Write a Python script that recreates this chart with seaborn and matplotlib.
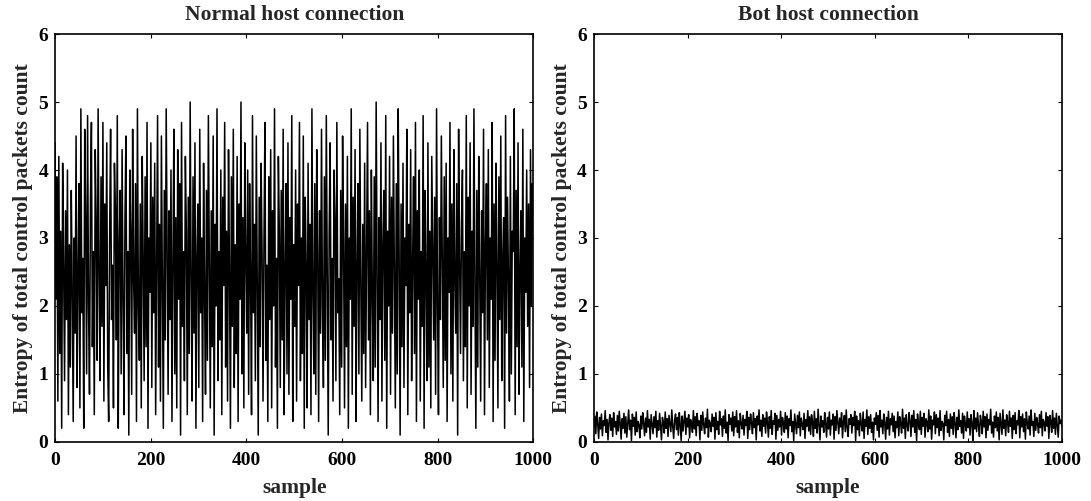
import numpy as np
import pandas as pd
import matplotlib
matplotlib.use("Agg")
import matplotlib.pyplot as plt
import seaborn as sns

titles = ["Normal host connection", "Bot host connection"]
x_label = "sample"
y_label = "Entropy of total control packets count"
x_ticks = [0, 200, 400, 600, 800, 1000]
y_ticks = [0, 1, 2, 3, 4, 5, 6]

normal_entropy = [
    4.4,2.1,3.9,0.6,4.2,1.3,3.1,0.2,4.1,2.6,0.9,3.4,1.8,4.0,0.4,2.9,1.1,3.7,2.2,0.3,3.0,1.6,4.5,0.8,2.4,
    3.8,0.5,4.9,1.9,2.7,0.2,4.6,3.3,1.0,4.8,2.0,0.7,3.6,4.7,1.4,2.8,0.4,4.3,3.2,1.2,4.9,2.5,0.9,3.9,1.7,
    4.7,0.6,3.5,2.3,4.4,1.1,0.3,3.0,4.6,1.8,2.6,0.5,4.1,3.4,1.5,4.8,0.2,2.9,3.7,1.0,4.3,2.1,0.4,3.3,4.5,
    1.3,2.8,0.1,4.0,3.1,0.7,4.6,2.4,1.6,3.8,0.3,4.9,2.0,1.2,3.5,0.5,4.2,2.7,0.9,3.9,1.4,4.7,0.2,3.0,2.2,
    4.4,0.8,3.6,1.9,4.1,0.4,2.5,4.8,1.1,3.2,0.6,4.5,2.3,0.2,3.7,1.5,4.9,2.9,0.7,3.4,1.8,4.0,0.3,2.6,4.6,
    1.0,3.3,0.5,4.3,2.1,3.8,0.1,4.7,1.7,2.8,0.9,4.2,3.1,0.4,3.6,1.3,5.0,2.4,0.6,3.9,1.6,4.4,0.2,2.7,3.5,
    0.8,4.6,1.9,3.0,0.3,4.1,2.2,0.7,3.7,1.2,4.8,2.6,0.5,3.4,1.4,4.5,0.1,3.2,2.0,4.9,0.9,2.8,1.5,4.0,0.4,
    3.6,2.3,4.7,1.1,3.1,0.6,4.3,2.5,0.2,3.9,1.7,4.6,0.8,2.9,1.3,4.2,0.3,3.5,2.1,5.0,1.0,3.3,0.5,4.4,2.7,
    1.6,4.0,0.7,3.8,2.4,0.4,4.8,1.9,3.2,0.9,4.5,2.2,0.1,3.6,1.4,4.1,2.8,0.6,3.0,4.7,1.2,2.6,0.3,3.9,1.8,
    4.3,0.5,3.4,2.0,4.9,1.1,2.7,0.2,4.2,3.1,0.8,3.7,1.5,4.6,0.4,2.5,3.8,1.0,4.4,0.7,3.3,2.1,4.8,0.3,2.9,
    1.7,4.0,0.6,3.5,2.3,4.7,0.9,3.0,1.3,4.5,0.2,3.6,2.6,0.5,4.1,1.8,3.2,0.4,4.9,2.2,1.0,3.8,0.7,4.3,2.8,
    0.3,3.4,1.6,4.6,2.0,0.8,3.9,1.2,4.8,2.5,0.1,3.1,4.4,1.5,2.7,0.6,4.0,3.3,0.9,4.7,1.9,2.4,0.4,3.7,1.1,
    4.5,2.9,0.5,3.5,1.4,4.2,0.2,3.0,2.1,4.9,0.7,3.6,1.7,4.3,0.3,2.6,3.8,1.0,4.6,2.3,0.6,3.2,1.3,4.1,0.8,
    2.8,4.7,1.5,3.4,0.4,4.0,2.2,0.9,3.9,1.1,5.0,2.5,0.3,3.3,1.8,4.4,0.6,2.9,3.7,1.2,4.8,0.2,3.1,2.0,4.2,
    0.7,3.6,1.6,4.5,2.4,0.5,3.8,1.0,4.9,2.7,0.1,3.5,1.4,4.1,0.8,3.0,2.3,4.6,0.4,3.2,1.9,4.3,0.9,2.6,3.9,
    1.3,4.7,0.3,3.4,2.1,4.0,0.6,2.8,1.7,4.8,0.2,3.7,2.5,0.9,4.4,1.1,3.1,0.5,4.2,2.9,1.5,3.6,0.7,4.9,2.0,
    0.4,3.3,1.8,4.5,2.6,0.8,3.9,1.2,4.1,0.3,3.0,2.2,4.7,1.0,3.5,0.6,4.3,2.4,1.6,3.8,0.1,4.6,2.7,1.3,3.2,
    4.0,0.9,2.8,1.4,4.8,0.5,3.6,2.0,4.4,0.7,3.1,1.7,4.9,2.3,0.2,3.7,1.1,4.2,2.5,0.6,3.4,1.9,4.6,0.4,2.9,
    3.8,1.5,4.3,0.8,3.0,2.1,4.7,0.3,3.5,1.2,4.1,2.6,0.5,3.9,1.8,4.5,0.9,2.7,3.3,0.2,4.8,1.6,3.6,2.4,0.6,
    4.2,1.0,3.1,2.8,4.9,0.4,3.7,1.4,4.4,0.7,2.5,3.4,1.1,4.6,0.3,3.0,2.2,4.0,1.7,3.5,0.8,4.3,2.0,3.8,3.3,
]

bot_entropy = [
    0.21,0.38,0.12,0.44,0.27,0.05,0.36,0.19,0.41,0.09,0.31,0.24,0.46,0.14,0.33,0.03,0.29,0.40,0.17,0.35,0.08,0.43,0.22,0.30,0.11,
    0.39,0.16,0.45,0.26,0.04,0.34,0.20,0.42,0.13,0.37,0.07,0.28,0.47,0.18,0.32,0.02,0.41,0.23,0.36,0.10,0.44,0.15,0.30,0.25,0.06,
    0.38,0.19,0.43,0.28,0.09,0.35,0.14,0.46,0.22,0.33,0.04,0.40,0.26,0.12,0.37,0.21,0.45,0.07,0.31,0.17,0.42,0.24,0.03,0.36,0.29,
    0.13,0.44,0.20,0.34,0.08,0.39,0.27,0.15,0.47,0.23,0.05,0.32,0.41,0.18,0.36,0.10,0.43,0.25,0.02,0.38,0.16,0.30,0.45,0.11,0.35,
    0.22,0.40,0.06,0.33,0.28,0.14,0.46,0.19,0.37,0.09,0.42,0.24,0.31,0.03,0.39,0.17,0.44,0.26,0.12,0.35,0.21,0.48,0.07,0.32,0.27,
    0.15,0.41,0.23,0.36,0.04,0.43,0.18,0.30,0.11,0.45,0.25,0.34,0.08,0.38,0.20,0.47,0.13,0.29,0.02,0.40,0.26,0.35,0.16,0.44,0.09,
    0.37,0.22,0.46,0.14,0.31,0.06,0.42,0.27,0.19,0.39,0.10,0.33,0.24,0.45,0.05,0.36,0.18,0.41,0.28,0.12,0.43,0.21,0.34,0.03,0.38,
    0.25,0.47,0.16,0.32,0.08,0.40,0.23,0.35,0.13,0.44,0.29,0.07,0.37,0.20,0.46,0.11,0.31,0.26,0.42,0.04,0.39,0.17,0.33,0.22,0.45,
    0.10,0.36,0.28,0.14,0.43,0.19,0.38,0.06,0.34,0.24,0.47,0.15,0.30,0.02,0.41,0.27,0.12,0.39,0.21,0.44,0.09,0.35,0.25,0.18,0.42,
    0.05,0.33,0.23,0.46,0.16,0.37,0.11,0.40,0.29,0.08,0.45,0.20,0.34,0.13,0.48,0.26,0.03,0.38,0.22,0.31,0.14,0.43,0.27,0.07,0.36,
    0.19,0.44,0.10,0.32,0.25,0.41,0.04,0.37,0.17,0.46,0.28,0.12,0.35,0.22,0.43,0.06,0.30,0.39,0.15,0.47,0.21,0.08,0.34,0.26,0.40,
    0.13,0.36,0.24,0.45,0.02,0.38,0.18,0.31,0.09,0.42,0.27,0.16,0.44,0.05,0.33,0.23,0.47,0.11,0.37,0.20,0.40,0.14,0.29,0.03,0.35,
    0.26,0.43,0.17,0.39,0.07,0.46,0.22,0.32,0.12,0.41,0.28,0.04,0.36,0.19,0.45,0.10,0.34,0.25,0.42,0.15,0.38,0.06,0.30,0.21,0.44,
    0.09,0.37,0.27,0.13,0.48,0.20,0.35,0.05,0.40,0.24,0.16,0.43,0.31,0.08,0.39,0.22,0.46,0.14,0.33,0.02,0.41,0.26,0.18,0.45,0.11,
    0.36,0.23,0.42,0.07,0.34,0.29,0.15,0.47,0.19,0.38,0.04,0.32,0.25,0.44,0.12,0.40,0.21,0.35,0.09,0.46,0.17,0.30,0.27,0.03,0.39,
    0.24,0.45,0.14,0.33,0.08,0.41,0.20,0.37,0.11,0.43,0.28,0.06,0.36,0.18,0.47,0.23,0.31,0.13,0.42,0.05,0.38,0.26,0.16,0.44,0.21,
    0.34,0.10,0.40,0.27,0.02,0.46,0.19,0.35,0.15,0.43,0.24,0.08,0.39,0.30,0.12,0.45,0.22,0.37,0.06,0.41,0.17,0.33,0.25,0.48,0.13,
    0.29,0.07,0.38,0.21,0.44,0.16,0.36,0.03,0.42,0.26,0.11,0.47,0.20,0.32,0.09,0.40,0.28,0.14,0.45,0.23,0.35,0.05,0.39,0.18,0.43,
    0.12,0.31,0.25,0.46,0.06,0.37,0.22,0.41,0.15,0.34,0.04,0.44,0.27,0.19,0.38,0.10,0.47,0.24,0.30,0.08,0.42,0.17,0.36,0.26,0.13,
    0.40,0.21,0.45,0.09,0.33,0.28,0.16,0.43,0.23,0.37,0.05,0.39,0.30,0.14,0.46,0.20,0.35,0.11,0.42,0.25,0.07,0.38,0.27,0.32,0.22,
]

sns.set_style("ticks")
plt.rcParams['font.family'] = ['Liberation Serif', 'DejaVu Serif']
plt.rcParams['font.weight'] = 'bold'

fig = plt.figure(figsize=(10.91, 5.01), dpi=100)
ax1 = fig.add_axes([0.0504, 0.118, 0.4385, 0.814])
ax2 = fig.add_axes([0.5444, 0.118, 0.4290, 0.814])

series = [normal_entropy, bot_entropy]
for ax, vals, title in zip([ax1, ax2], series, titles):
    n = len(vals)
    df = pd.DataFrame({"sample": np.linspace(0, 1000, n), "entropy": vals})
    sns.lineplot(data=df, x="sample", y="entropy", ax=ax, color="black",
                 linewidth=1.1, estimator=None, sort=False)
    ax.set_xlim(0, 1000)
    ax.set_ylim(0, 6)
    ax.set_xticks(x_ticks)
    ax.set_yticks(y_ticks)
    ax.tick_params(direction="in", length=3, width=0.8, top=True, right=True,
                   labelsize=14, colors="black")
    ax.tick_params(axis="x", pad=7)
    ax.tick_params(axis="y", pad=5)
    for lbl in ax.get_xticklabels() + ax.get_yticklabels():
        lbl.set_fontweight("bold")
    for sp in ax.spines.values():
        sp.set_visible(True)
        sp.set_linewidth(1.2)
        sp.set_color("black")
    ax.set_title(title, fontsize=15.5, fontweight="bold", pad=10)
    ax.set_xlabel(x_label, fontsize=15.5, fontweight="bold", labelpad=7)
    ax.set_ylabel(y_label, fontsize=15.5, fontweight="bold", labelpad=4)

fig.savefig("out.png", dpi=100, facecolor="white")
